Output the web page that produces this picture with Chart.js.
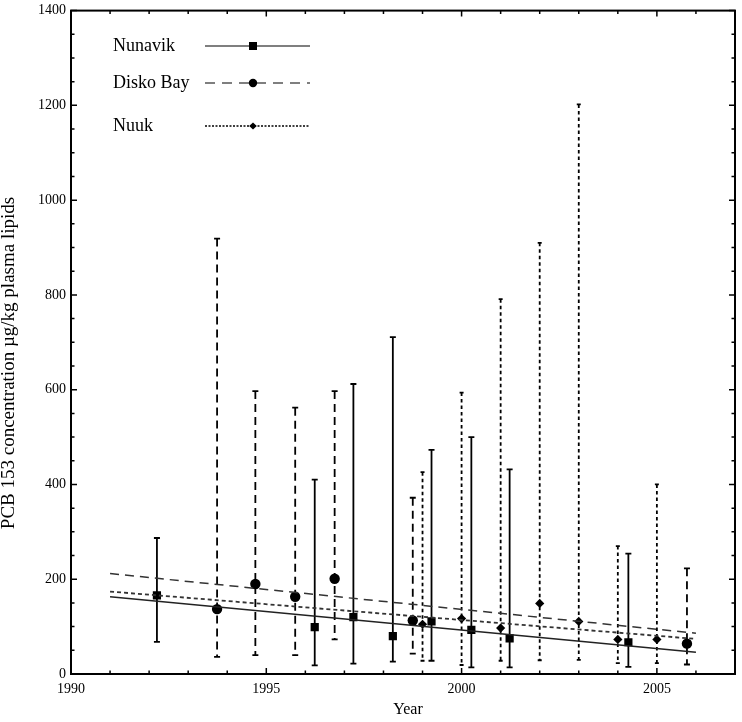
<!DOCTYPE html>
<html>
<head>
<meta charset="utf-8">
<script src="https://cdn.jsdelivr.net/npm/chart.js@4.4.1/dist/chart.umd.min.js"></script>
<style>
  html, body { margin: 0; padding: 0; background: #fff; }
</style>
</head>
<body>
<canvas id="grafico" width="742" height="722"></canvas>
<script>
// Nunavik (quadrados, barras continuas)
const nunavikAnos = [1992.2, 1996.24, 1997.23, 1998.24, 1999.23, 2000.25, 2001.23, 2004.27];
const nunavikValores = [166, 99, 120, 80, 111, 93, 75, 67];
const nunavikMin = [68, 18, 22, 26, 28, 14, 14, 15];
const nunavikMax = [287, 410, 612, 711, 473, 500, 432, 254];

// Disko Bay (circulos, barras tracejadas)
const diskoAnos = [1993.74, 1994.72, 1995.74, 1996.75, 1998.75, 2005.77];
const diskoValores = [137, 190, 163, 201, 113, 64];
const diskoMin = [36, 40, 40, 73, 43, 20];
const diskoMax = [919, 597, 562, 597, 372, 223];

// Nuuk (losangos, barras pontilhadas)
const nuukAnos = [1999, 2000, 2001, 2002, 2003, 2004, 2005];
const nuukValores = [105, 117, 97, 149, 111, 73, 73];
const nuukMin = [28, 19, 28, 29, 30, 23, 23];
const nuukMax = [426, 594, 791, 910, 1202, 270, 400];

// retas de tendencia (inicio / fim)
const tendenciaAnos = [1991, 2006];
const nunavikTendencia = [163, 46];
const diskoTendencia = [212, 86];
const nuukTendencia = [174, 74];

const fonte = '"Liberation Serif", "Times New Roman", serif';

function pontos(xs, ys) {
    return xs.map((x, i) => ({ x: x, y: ys[i] }));
}

const series = [
    { nome: 'Nunavik', anos: nunavikAnos, min: nunavikMin, max: nunavikMax, dash: [], cap: 3, largura: 1.8, estilo: 'rect', legDash: [] },
    { nome: 'Disko Bay', anos: diskoAnos, min: diskoMin, max: diskoMax, dash: [8, 5], cap: 3, largura: 1.8, estilo: 'circle', legDash: [10, 7] },
    { nome: 'Nuuk', anos: nuukAnos, min: nuukMin, max: nuukMax, dash: [3.5, 3], cap: 2, largura: 1.8, estilo: 'rectRot', legDash: [2, 1.5] }
];

function marcador(ctx, estilo, x, y) {
    ctx.beginPath();
    if (estilo === 'rect') {
        ctx.rect(x - 4, y - 4, 8, 8);
    } else if (estilo === 'circle') {
        ctx.arc(x, y, 4.2, 0, Math.PI * 2);
    } else {
        ctx.moveTo(x - 3.8, y);
        ctx.lineTo(x, y - 3.5);
        ctx.lineTo(x + 3.8, y);
        ctx.lineTo(x, y + 3.5);
        ctx.closePath();
    }
    ctx.fill();
}

const barrasErro = {
    id: 'barrasErro',
    beforeDatasetsDraw(chart) {
        const { ctx, scales: { x, y } } = chart;
        ctx.save();
        ctx.strokeStyle = '#000';
        series.forEach(s => {
            ctx.lineWidth = s.largura;
            s.anos.forEach((ano, i) => {
                const px = x.getPixelForValue(ano);
                const topo = y.getPixelForValue(s.max[i]);
                const base = y.getPixelForValue(s.min[i]);
                ctx.setLineDash(s.dash);
                ctx.beginPath();
                ctx.moveTo(px, topo);
                ctx.lineTo(px, base);
                ctx.stroke();
                ctx.setLineDash([]);
                ctx.beginPath();
                ctx.moveTo(px - s.cap, topo);
                ctx.lineTo(px + s.cap, topo);
                ctx.moveTo(px - s.cap, base);
                ctx.lineTo(px + s.cap, base);
                ctx.stroke();
            });
        });
        ctx.restore();
    }
};

const moldura = {
    id: 'moldura',
    afterDraw(chart) {
        const { ctx, chartArea: a, scales: { x, y } } = chart;
        ctx.save();
        ctx.strokeStyle = '#000';
        ctx.lineWidth = 1.5;
        ctx.beginPath();
        x.ticks.forEach(t => {
            const px = x.getPixelForValue(t.value);
            const len = t.value % 5 === 0 ? 6 : 3.5;
            ctx.moveTo(px, a.bottom);
            ctx.lineTo(px, a.bottom - len);
            ctx.moveTo(px, a.top);
            ctx.lineTo(px, a.top + len);
        });
        y.ticks.forEach(t => {
            const py = y.getPixelForValue(t.value);
            const len = t.value % 200 === 0 ? 6 : 3.5;
            ctx.moveTo(a.left, py);
            ctx.lineTo(a.left + len, py);
            ctx.moveTo(a.right, py);
            ctx.lineTo(a.right - len, py);
        });
        ctx.stroke();
        ctx.lineWidth = 2;
        ctx.strokeRect(a.left, a.top, a.right - a.left, a.bottom - a.top);

        // titulos dos eixos
        ctx.fillStyle = '#000';
        ctx.textAlign = 'center';
        ctx.textBaseline = 'middle';
        ctx.font = '16px ' + fonte;
        ctx.fillText('Year', 408, 710);
        ctx.save();
        ctx.translate(9, 363);
        ctx.rotate(-Math.PI / 2);
        ctx.font = '19px ' + fonte;
        ctx.fillText('PCB 153 concentration \u00b5g/kg plasma lipids', 0, 0);
        ctx.restore();

        // legenda
        const linhasY = [46, 83, 126];
        series.forEach((s, i) => {
            const ly = linhasY[i];
            ctx.textAlign = 'left';
            ctx.font = '18px ' + fonte;
            ctx.fillText(s.nome, 113, ly);
            ctx.lineWidth = i === 2 ? 1.5 : 1.2;
            ctx.setLineDash(s.legDash);
            ctx.beginPath();
            ctx.moveTo(205, ly);
            ctx.lineTo(310, ly);
            ctx.stroke();
            ctx.setLineDash([]);
            marcador(ctx, s.estilo, 253, ly);
        });
        ctx.restore();
    }
};

const ctxGrafico = document.getElementById('grafico').getContext('2d');
const grafico = new Chart(ctxGrafico, {
    type: 'scatter',
    data: {
        datasets: [
            {
                label: 'Nunavik trend',
                data: pontos(tendenciaAnos, nunavikTendencia),
                showLine: true, pointRadius: 0, borderColor: '#222', borderWidth: 1.4
            },
            {
                label: 'Disko Bay trend',
                data: pontos(tendenciaAnos, diskoTendencia),
                showLine: true, pointRadius: 0, borderColor: '#333', borderWidth: 1.5, borderDash: [9, 6]
            },
            {
                label: 'Nuuk trend',
                data: pontos(tendenciaAnos, nuukTendencia),
                showLine: true, pointRadius: 0, borderColor: '#333', borderWidth: 1.8, borderDash: [4, 3]
            },
            {
                label: 'Nunavik',
                data: pontos(nunavikAnos, nunavikValores),
                pointStyle: 'rect', pointRadius: 5.8, backgroundColor: '#000', borderColor: '#000', borderWidth: 0
            },
            {
                label: 'Disko Bay',
                data: pontos(diskoAnos, diskoValores),
                pointStyle: 'circle', pointRadius: 5.2, backgroundColor: '#000', borderColor: '#000', borderWidth: 0
            },
            {
                label: 'Nuuk',
                data: pontos(nuukAnos, nuukValores),
                pointStyle: 'rectRot', pointRadius: 4.6, backgroundColor: '#000', borderColor: '#000', borderWidth: 0
            }
        ]
    },
    options: {
        responsive: false,
        animation: false,
        devicePixelRatio: 1,
        layout: { padding: { top: 6, right: 3, left: 0, bottom: 0 } },
        plugins: { legend: { display: false }, tooltip: { enabled: false } },
        scales: {
            x: {
                type: 'linear',
                min: 1990, max: 2007,
                grid: { display: false, drawTicks: false },
                border: { display: false },
                ticks: {
                    stepSize: 1, autoSkip: false, maxRotation: 0, padding: 7,
                    color: '#000', font: { family: fonte, size: 14 },
                    callback: v => (v % 5 === 0 ? String(v) : '')
                },
                afterFit: s => { s.height = 48; }
            },
            y: {
                min: 0, max: 1400,
                grid: { display: false, drawTicks: false },
                border: { display: false },
                ticks: {
                    stepSize: 50, autoSkip: false, padding: 5,
                    color: '#000', font: { family: fonte, size: 14, lineHeight: 0.8 },
                    callback: v => (v % 200 === 0 ? String(v) : '')
                },
                afterFit: s => { s.width = 71; }
            }
        }
    },
    plugins: [barrasErro, moldura]
});
</script>
</body>
</html>
